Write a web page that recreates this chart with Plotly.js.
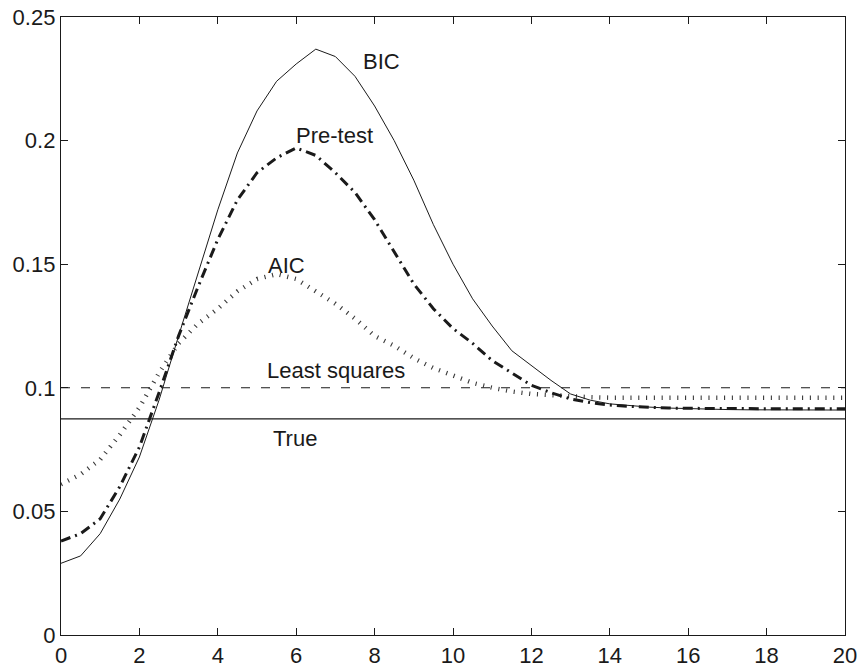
<!DOCTYPE html>
<html>
<head>
<meta charset="utf-8">
<script src="https://cdn.plot.ly/plotly-3.0.1.min.js"></script>
<style>
  html, body { margin: 0; padding: 0; background: #fff; }
  #chart { width: 859px; height: 668px; }
</style>
</head>
<body>
<div id="chart"></div>
<script>
// Horizon values (0 to 20 in steps of 0.5)
const xs = [0,0.5,1,1.5,2,2.5,3,3.5,4,4.5,5,5.5,6,6.5,7,7.5,8,8.5,9,9.5,10,
            10.5,11,11.5,12,12.5,13,13.5,14,14.5,15,15.5,16,16.5,17,17.5,18,18.5,19,19.5,20];

const bic = [0.029,0.032,0.041,0.055,0.072,0.095,0.121,0.146,0.172,0.195,0.212,
             0.224,0.231,0.237,0.234,0.226,0.214,0.200,0.184,0.166,0.150,
             0.136,0.125,0.115,0.109,0.103,0.0975,0.095,0.0935,0.0927,0.0922,
             0.0918,0.0915,0.0913,0.0912,0.0911,0.0911,0.091,0.091,0.091,0.091];

const pretest = [0.038,0.041,0.047,0.060,0.076,0.098,0.121,0.141,0.160,0.176,0.187,
                 0.193,0.197,0.194,0.187,0.179,0.168,0.155,0.142,0.132,0.124,
                 0.118,0.111,0.106,0.101,0.098,0.0955,0.094,0.093,0.0925,0.092,
                 0.0918,0.0917,0.0916,0.0916,0.0916,0.0915,0.0915,0.0915,0.0915,0.0915];

const aic = [0.061,0.065,0.071,0.081,0.092,0.106,0.118,0.126,0.132,0.139,0.144,
             0.146,0.144,0.139,0.134,0.128,0.121,0.117,0.112,0.108,0.105,
             0.102,0.100,0.0985,0.0975,0.097,0.0965,0.0962,0.096,0.096,0.096,
             0.096,0.096,0.096,0.096,0.096,0.096,0.096,0.096,0.096,0.096];

const lsX = [0, 20];
const lsY = [0.1, 0.1];
const trueX = [0, 20];
const trueY = [0.0874, 0.0874];

const xTickVals = [0,2,4,6,8,10,12,14,16,18,20];
const xTickText = ['0','2','4','6','8','10','12','14','16','18','20'];
const yTickVals = [0,0.05,0.1,0.15,0.2,0.25];
const yTickText = ['0','0.05','0.1','0.15','0.2','0.25'];

const labels = [
  {text: 'BIC', x: 8.18, y: 0.2318},
  {text: 'Pre-test', x: 6.97, y: 0.2022},
  {text: 'AIC', x: 5.75, y: 0.1496},
  {text: 'Least squares', x: 7.02, y: 0.1068},
  {text: 'True', x: 5.96, y: 0.0793}
];

const ink = '#1a1a1a';
const fontFam = '"Liberation Sans", Arial, Helvetica, sans-serif';

const traces = [
  {x: trueX, y: trueY, mode: 'lines', line: {color: ink, width: 1.2}, name: 'True'},
  {x: lsX, y: lsY, mode: 'lines', line: {color: ink, width: 1.1, dash: '9px,11px'}, name: 'Least squares'},
  {x: xs, y: aic, mode: 'lines', line: {color: '#3a3a3a', width: 4.5, dash: '1.1px,6.7px'}, name: 'AIC'},
  {x: xs, y: pretest, mode: 'lines', line: {color: ink, width: 3, dash: '10px,5px,2px,5px'}, name: 'Pre-test'},
  {x: xs, y: bic, mode: 'lines', line: {color: ink, width: 1}, name: 'BIC'}
];

const layout = {
  width: 859, height: 668,
  margin: {l: 61, r: 14, t: 17, b: 33, pad: 0},
  paper_bgcolor: '#fff', plot_bgcolor: '#fff',
  showlegend: false,
  font: {family: fontFam, size: 22, color: ink},
  xaxis: {
    range: [0, 20], tickvals: xTickVals, ticktext: xTickText,
    ticks: 'inside', ticklen: 7, tickwidth: 1, tickcolor: ink,
    showline: true, linecolor: ink, linewidth: 1.2, mirror: 'ticks',
    showgrid: false, zeroline: false,
    tickfont: {family: fontFam, size: 22, color: ink}
  },
  yaxis: {
    range: [0, 0.25], tickvals: yTickVals, ticktext: yTickText,
    ticks: 'inside', ticklen: 7, tickwidth: 1, tickcolor: ink,
    showline: true, linecolor: ink, linewidth: 1.2, mirror: 'ticks',
    showgrid: false, zeroline: false,
    tickfont: {family: fontFam, size: 22, color: ink}
  },
  annotations: labels.map(l => ({
    text: l.text, x: l.x, y: l.y, xref: 'x', yref: 'y',
    showarrow: false, xanchor: 'center', yanchor: 'middle',
    font: {family: fontFam, size: 22, color: ink}
  }))
};

Plotly.newPlot('chart', traces, layout, {staticPlot: true, displayModeBar: false});
</script>
</body>
</html>
